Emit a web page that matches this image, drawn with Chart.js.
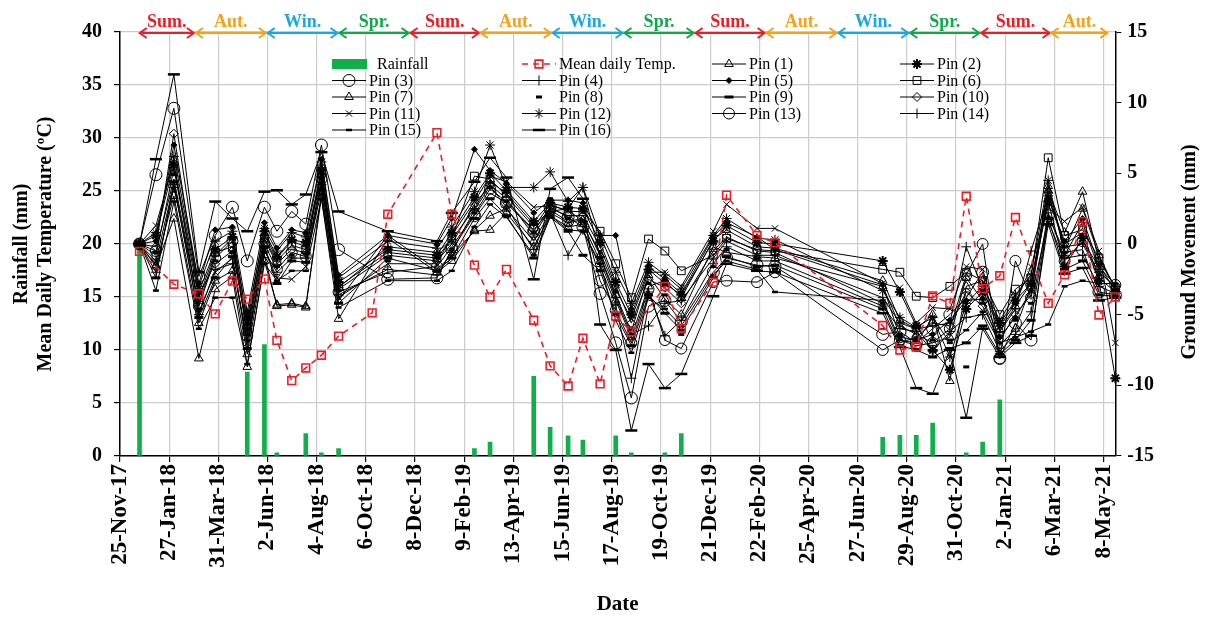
<!DOCTYPE html>
<html>
<head>
<meta charset="utf-8">
<script src="https://cdn.jsdelivr.net/npm/chart.js@4/dist/chart.umd.min.js"></script>
<style>
  html, body { margin: 0; padding: 0; background: #fff; }
  #marco { width: 1207px; height: 617px; }
</style>
</head>
<body>
<div id="marco"><canvas id="chart"></canvas></div>
<script>
// ejes y etiquetas de fecha
var tickLabels = ['25-Nov-17', '27-Jan-18', '31-Mar-18', '2-Jun-18', '4-Aug-18', '6-Oct-18', '8-Dec-18',
    '9-Feb-19', '13-Apr-19', '15-Jun-19', '17-Aug-19', '19-Oct-19', '21-Dec-19', '22-Feb-20',
    '25-Apr-20', '27-Jun-20', '29-Aug-20', '31-Oct-20', '2-Jan-21', '6-Mar-21', '8-May-21'];

// lluvia (mm)
var rainDates = ['20-Dec-17', '7-May-18', '29-May-18', '14-Jun-18', '21-Jul-18', '10-Aug-18', '1-Sep-18',
    '22-Feb-19', '14-Mar-19', '9-May-19', '30-May-19', '22-Jun-19', '11-Jul-19', '22-Aug-19', '11-Sep-19',
    '24-Oct-19', '14-Nov-19', '29-Jul-20', '20-Aug-20', '10-Sep-20', '1-Oct-20', '13-Nov-20', '4-Dec-20', '26-Dec-20'];
var rainValues = [20.0, 7.9, 10.5, 0.3, 2.1, 0.3, 0.7,
    0.7, 1.3, 7.5, 2.7, 1.9, 1.5, 1.9, 0.3,
    0.3, 2.1, 1.75, 1.95, 1.95, 3.1, 0.3, 1.3, 5.3];

// temperatura media diaria (ºC)
var tempDates = ['20-Dec-17', '2-Feb-18', '6-Mar-18', '27-Mar-18', '18-Apr-18', '7-May-18', '29-May-18',
    '14-Jun-18', '3-Jul-18', '21-Jul-18', '10-Aug-18', '1-Sep-18', '14-Oct-18', '3-Nov-18', '5-Jan-19',
    '24-Jan-19', '22-Feb-19', '14-Mar-19', '4-Apr-19', '9-May-19', '30-May-19', '22-Jun-19', '11-Jul-19',
    '2-Aug-19', '22-Aug-19', '11-Sep-19', '24-Oct-19', '14-Nov-19', '25-Dec-19', '11-Jan-20', '19-Feb-20',
    '13-Mar-20', '29-Jul-20', '20-Aug-20', '10-Sep-20', '1-Oct-20', '23-Oct-20', '13-Nov-20', '4-Dec-20',
    '26-Dec-20', '15-Jan-21', '26-Feb-21', '19-Mar-21', '11-Apr-21', '2-May-21', '23-May-21'];
var tempValues = [19.3, 16.2, 15.3, 13.4, 16.5, 14.8, 16.7,
    10.9, 7.1, 8.3, 9.5, 11.3, 13.5, 22.8, 30.5,
    22.8, 18.0, 15.0, 17.6, 12.8, 8.5, 6.6, 11.1,
    6.8, 13.2, 11.7, 16.0, 12.0, 16.4, 24.6, 20.8,
    20.1, 12.3, 10.0, 10.3, 15.1, 14.4, 24.5, 15.8,
    17.0, 22.5, 14.4, 17.1, 22.1, 13.3, 15.0];

// lecturas de los pines (mm)
var pinDates = ['20-Dec-17', '10-Jan-18', '2-Feb-18', '6-Mar-18', '27-Mar-18', '18-Apr-18', '7-May-18', '29-May-18',
    '14-Jun-18', '3-Jul-18', '21-Jul-18', '10-Aug-18', '1-Sep-18', '3-Nov-18', '5-Jan-19', '24-Jan-19',
    '22-Feb-19', '14-Mar-19', '4-Apr-19', '9-May-19', '30-May-19', '22-Jun-19', '11-Jul-19', '2-Aug-19',
    '22-Aug-19', '11-Sep-19', '3-Oct-19', '24-Oct-19', '14-Nov-19', '25-Dec-19', '11-Jan-20', '19-Feb-20',
    '13-Mar-20', '29-Jul-20', '20-Aug-20', '10-Sep-20', '1-Oct-20', '23-Oct-20', '13-Nov-20', '4-Dec-20',
    '26-Dec-20', '15-Jan-21', '4-Feb-21', '26-Feb-21', '19-Mar-21', '11-Apr-21', '2-May-21', '23-May-21'];

var pin1 = [0, -1.5, 3.4, -5.6, -2.6, -1.9, -7.8, -0.8, -4.4, -4.3, -4.5, 3.6, -4.0, 0.6, -1.8, -0.8,
    0.9, 1.0, 2.2, -0.2, 2.0, 1.2, 1.4, -1.2, -4.0, -6.6, -3.0, -2.6, -3.8, 0.3, 1.0, -0.2,
    -0.3, -2.6, -5.4, -6.0, -5.0, -9.7, -3.0, -2.6, -6.1, -4.4, -2.8, 3.8, 0.8, 3.7, -1.2, -3.0];
var pin2 = [0, 0.6, 5.6, -3.4, -0.4, 0.5, -5.2, 0.9, -0.9, 0.3, 0.1, 5.2, -2.7, -0.4, -0.8, 0.8,
    3.3, 5.0, 3.8, 1.6, 2.9, 2.6, 2.5, 0.1, -2.7, -5.0, -1.8, -2.8, -3.6, 0.2, 1.3, 0.1,
    0.0, -1.2, -3.4, -5.8, -7.5, -8.9, -4.6, -3.4, -5.6, -4.0, -2.8, 3.0, -1.6, 0.4, -2.6, -9.5];
var pin3 = [0, 4.9, 9.6, -2.3, 0.6, 2.6, -1.2, 2.6, 0.9, 2.3, 1.4, 7.0, -0.4, -2.5, -2.4, -0.4,
    2.0, 3.6, 2.9, 0.9, 2.6, 1.9, 1.2, -3.5, -7.0, -10.9, -4.4, -4.0, -5.5, -2.0, -1.0, -1.5,
    -1.6, -6.4, -6.2, -7.0, -6.0, -5.0, -3.8, -2.0, -8.1, -5.6, -6.8, 2.0, -0.6, -0.4, -3.4, -3.6];
var pin4 = [0, -1.2, 4.2, -5.0, -1.8, -1.4, -6.8, -0.5, -2.0, -1.0, -1.0, 4.2, -3.6, -1.8, -2.2, -0.6,
    2.4, 4.1, 2.6, -0.4, 2.2, -0.8, 1.0, -1.6, -4.3, -9.5, -3.4, -6.5, -5.4, -1.4, -0.2, -1.2,
    -1.2, -4.4, -6.0, -6.2, -7.6, -6.2, -5.2, -5.0, -7.6, -6.4, -4.8, 2.2, -1.0, -0.8, -3.0, -3.5];
var pin5 = [0, 0.2, 7.0, -2.8, 1.0, 1.2, -4.8, 1.5, -0.3, 1.0, 0.8, 6.0, -2.2, 0.6, 0.0, 1.8,
    6.7, 5.2, 4.3, 2.2, 3.1, 3.1, 2.9, 0.6, 0.6, -4.6, -1.6, -2.5, -3.5, 0.5, 1.5, 0.5,
    -0.4, -2.9, -6.6, -6.8, -6.4, -5.4, -4.0, -3.9, -6.6, -5.2, -3.3, 3.2, 0.2, 1.8, -1.5, -3.3];
var pin6 = [0, -0.8, 5.3, -3.8, -0.6, -0.2, -6.2, 0.4, -1.2, -0.1, -0.4, 5.0, -3.0, -0.6, -1.0, 0.4,
    4.8, 4.6, 3.4, 1.2, 2.8, 2.3, 2.3, 0.9, -1.4, -3.8, 0.35, -0.5, -1.9, -0.8, 0.4, -0.4,
    -0.5, -1.8, -2.0, -3.7, -3.8, -3.0, -2.0, -2.6, -5.0, -3.2, -2.4, 6.1, 0.6, 1.0, -1.0, -3.1];
var pin7 = [0, -1.6, 1.8, -8.1, -3.2, -2.3, -8.7, -1.2, -4.3, -4.2, -4.4, 3.3, -5.3, 0.4, -2.0, -1.2,
    1.0, 2.0, 2.5, 0.2, 2.2, 1.5, 1.7, -0.8, -3.6, -6.2, -2.2, -3.9, -5.0, -0.2, -0.6, -0.9,
    -1.0, -3.0, -5.8, -6.4, -7.0, -6.6, -2.4, -4.0, -7.2, -6.0, -3.0, 4.1, -0.4, 2.5, -0.8, -3.2];
var pin8 = [0, -0.6, 4.9, -4.6, -1.2, -0.6, -6.4, -0.6, -1.6, -0.8, -0.7, 4.7, -3.3, -1.2, -1.0, -0.4,
    2.2, 4.0, 3.0, 0.8, 3.2, 1.8, 1.6, -1.0, -3.4, -6.0, -2.8, -3.6, -6.4, -1.6, -0.4, -1.0,
    -1.8, -4.2, -6.4, -6.9, -6.8, -6.8, -8.7, -4.2, -6.6, -5.4, -4.2, 2.8, -0.6, 0.6, -2.2, -3.4];
var pin9 = [0, -2.4, 4.4, -5.2, -2.4, -0.9, -7.4, -0.2, -2.8, -1.2, -1.3, 3.8, -4.2, -1.0, -1.9, -1.0,
    1.8, 3.2, 2.0, -1.0, 1.9, 0.9, -0.8, -1.9, -5.0, -7.2, -3.6, -4.9, -6.1, -2.4, -0.9, -1.6,
    -1.5, -4.6, -7.2, -7.5, -8.0, -7.4, -7.0, -5.8, -7.8, -6.8, -5.4, 1.8, -1.8, -1.2, -3.6, -3.7];
var pin10 = [0, -0.2, 7.8, -3.6, -1.4, -0.5, -5.8, 0.3, -1.4, -0.4, -0.6, 5.4, -3.2, -0.8, -1.2, 0.0,
    2.8, 4.2, 3.2, 0.6, 2.5, 2.0, 2.0, -0.2, -3.0, -5.6, -2.5, -3.1, -4.2, -0.5, 0.5, -0.5,
    -0.6, -4.2, -7.0, -6.6, -5.6, -5.8, -3.4, -4.4, -6.8, -5.0, -3.6, 3.6, 0.0, 0.8, -2.4, -3.4];
var pin11 = [0, 1.3, 5.8, -4.8, -2.0, -1.0, -7.0, -0.4, -2.4, -2.5, -1.6, 4.4, -3.8, -1.4, -1.4, 0.6,
    3.0, 4.8, 4.4, 2.6, 2.7, 2.4, 1.6, -0.6, -3.2, -5.3, -2.0, -2.0, -3.0, 0.9, 2.8, 1.1,
    1.1, -2.8, -3.1, -5.6, -4.5, -4.6, -1.6, -1.8, -5.8, -4.2, -1.6, 2.6, 1.6, 2.6, -0.5, -7.0];
var pin12 = [0, 0.8, 6.2, -3.0, 0.2, 0.9, -5.6, 1.1, -0.5, 0.8, 0.5, 5.8, -2.4, 0.2, -0.3, 1.2,
    3.7, 7.0, 4.0, 4.0, 5.1, 3.0, 4.0, 0.6, -2.0, -4.2, -1.3, -2.2, -3.2, 0.6, 1.8, 0.4,
    0.3, -3.3, -5.2, -5.9, -5.2, -8.0, -4.2, -3.0, -5.4, -3.6, -2.2, 4.5, -0.8, 1.5, -1.8, -3.2];
var pin13 = [0, -0.5, 4.6, -4.4, -1.0, 0.2, -6.5, 0.0, -1.8, -0.6, -0.9, 4.6, -3.4, -2.0, -1.6, -0.2,
    2.1, 3.9, 3.0, 1.0, 2.4, 1.6, 1.8, -2.6, -4.7, -7.0, -3.2, -6.8, -7.4, -2.7, -2.6, -2.7,
    -2.0, -7.5, -6.8, -7.2, -7.0, -6.0, -2.2, 0.0, -8.1, -1.2, -3.8, 1.6, -1.2, 0.2, -1.6, -2.9];
var pin14 = [0, -2.0, 4.0, -4.2, -0.8, 0.4, -6.0, 0.6, -1.0, 0.2, -0.2, 4.9, -3.1, -0.2, -0.6, 0.3,
    2.5, 4.4, 3.6, 1.4, 2.3, 2.5, 4.0, -0.9, -3.8, -6.4, -5.8, -4.2, -4.0, -1.0, 0.2, -0.8,
    -0.8, -3.8, -5.6, -6.0, -5.8, -5.6, -0.2, -3.2, -6.2, -4.6, -0.5, 3.4, -0.2, 0.0, -2.0, -3.0];
var pin15 = [0, -3.3, 3.0, -6.0, -3.8, -3.8, -8.5, -1.4, -2.6, -1.9, -1.9, 3.2, -4.5, -2.6, -2.6, -1.9,
    1.2, 2.8, 1.9, -0.8, 2.0, 1.0, 0.9, -1.4, -5.4, -7.7, -3.8, -4.6, -5.8, -2.2, -1.2, -1.8,
    -3.4, -4.0, -6.8, -7.0, -5.2, -7.0, -6.1, -4.8, -7.0, -6.6, -6.2, -5.7, -3.0, -2.6, -2.8, -2.8];
var pin16 = [0, 6.0, 12.0, -2.0, 3.0, 1.8, 0.9, 3.7, 3.8, 2.8, 3.5, 6.5, 2.3, 0.9, 0.2, 2.2,
    4.4, 6.1, 4.7, -2.5, 3.9, 4.7, 3.2, -5.7, -7.5, -13.2, -8.5, -10.2, -9.2, -3.7, -1.4, -1.9,
    -2.0, -4.9, -7.3, -10.2, -10.6, -7.5, -12.3, -6.0, -8.0, -7.0, -6.5, 1.4, -2.1, -1.7, -4.0, -3.8];

// estaciones del año sobre el gráfico
var seasonNames = ['Sum.', 'Aut.', 'Win.', 'Spr.', 'Sum.', 'Aut.', 'Win.', 'Spr.', 'Sum.', 'Aut.', 'Win.', 'Spr.', 'Sum.', 'Aut.'];
var seasonStart = ['19-Dec-17', '1-Mar-18', '1-Jun-18', '1-Sep-18', '1-Dec-18', '1-Mar-19', '1-Jun-19',
    '1-Sep-19', '1-Dec-19', '1-Mar-20', '1-Jun-20', '1-Sep-20', '1-Dec-20', '1-Mar-21'];
var seasonEnd = ['1-Mar-18', '1-Jun-18', '1-Sep-18', '1-Dec-18', '1-Mar-19', '1-Jun-19', '1-Sep-19',
    '1-Dec-19', '1-Mar-20', '1-Jun-20', '1-Sep-20', '1-Dec-20', '1-Mar-21', '14-May-21'];
var seasonColors = { 'Sum.': '#ee1c25', 'Aut.': '#f7a11a', 'Win.': '#1ba7e6', 'Spr.': '#12a84a' };

var meses = { Jan: 0, Feb: 1, Mar: 2, Apr: 3, May: 4, Jun: 5, Jul: 6, Aug: 7, Sep: 8, Oct: 9, Nov: 10, Dec: 11 };
// dias contados desde 25-Nov-17
function dia(texto) {
    var p = texto.split('-');
    var t = Date.UTC(2000 + Number(p[2]), meses[p[1]], Number(p[0]));
    return Math.round((t - Date.UTC(2017, 10, 25)) / 86400000);
}
function puntos(fechas, valores) {
    return fechas.map(function (f, i) { return { x: dia(f), y: valores[i] }; });
}

var FUENTE = '"Liberation Serif", "Times New Roman", serif';

// marcador de cada pin: [estilo, radio, grosor, relleno, con linea]
var marcas = [
    ['triangle', 5, 1, 'rgba(255,255,255,0)', true],
    ['star', 5, 2, 'rgba(255,255,255,0)', true],
    ['circle', 6, 1, 'rgba(255,255,255,0)', true],
    ['cross', 5, 1, 'rgba(255,255,255,0)', true],
    ['rectRot', 3, 1, '#000', true],
    ['rect', 5.5, 1, 'rgba(255,255,255,0)', true],
    ['triangle', 5, 1, 'rgba(255,255,255,0)', true],
    ['line', 3, 3, '#000', false],
    ['line', 4.5, 3, '#000', true],
    ['rectRot', 4.5, 1, 'rgba(255,255,255,0)', true],
    ['crossRot', 4.5, 1, 'rgba(255,255,255,0)', true],
    ['star', 5, 1, 'rgba(255,255,255,0)', true],
    ['circle', 5.5, 1, 'rgba(255,255,255,0)', true],
    ['cross', 5, 1, 'rgba(255,255,255,0)', true],
    ['line', 3, 2.5, '#000', true],
    ['line', 6, 2.5, '#000', true]
];
var pinas = [pin1, pin2, pin3, pin4, pin5, pin6, pin7, pin8, pin9, pin10, pin11, pin12, pin13, pin14, pin15, pin16];

var datasets = [{
    type: 'bar',
    label: 'Rainfall',
    data: puntos(rainDates, rainValues),
    yAxisID: 'y',
    backgroundColor: '#0fb04b',
    barThickness: 4,
    order: 30
}, {
    type: 'line',
    label: 'Mean daily Temp.',
    data: puntos(tempDates, tempValues),
    yAxisID: 'y',
    borderColor: '#f21d24',
    borderWidth: 1.6,
    borderDash: [6, 5],
    pointStyle: 'rect',
    pointRadius: 5.5,
    pointBorderColor: '#f21d24',
    pointBackgroundColor: 'rgba(255,255,255,0)',
    pointBorderWidth: 1.6,
    clip: false,
    order: 0
}];
pinas.forEach(function (valores, i) {
    var m = marcas[i];
    datasets.push({
        type: 'line',
        label: 'Pin (' + (i + 1) + ')',
        data: puntos(pinDates, valores),
        yAxisID: 'y1',
        borderColor: '#000',
        borderWidth: 1,
        showLine: m[4],
        pointStyle: m[0],
        pointRadius: m[1],
        pointBorderWidth: m[2],
        pointBorderColor: '#000',
        pointBackgroundColor: m[3],
        clip: false,
        order: 1
    });
});

// flechas de las estaciones
var estaciones = {
    id: 'estaciones',
    afterDraw: function (chart) {
        var ctx = chart.ctx, xs = chart.scales.x, y = chart.chartArea.top + 1;
        ctx.save();
        ctx.lineWidth = 2;
        ctx.font = 'bold 18px ' + FUENTE;
        ctx.textAlign = 'center';
        ctx.textBaseline = 'alphabetic';
        seasonNames.forEach(function (nombre, i) {
            var x1 = xs.getPixelForValue(dia(seasonStart[i])) + 1;
            var x2 = xs.getPixelForValue(dia(seasonEnd[i])) - 1;
            ctx.strokeStyle = seasonColors[nombre];
            ctx.fillStyle = seasonColors[nombre];
            ctx.beginPath();
            ctx.moveTo(x1, y); ctx.lineTo(x2, y);
            ctx.moveTo(x1 + 7, y - 5); ctx.lineTo(x1, y); ctx.lineTo(x1 + 7, y + 5);
            ctx.moveTo(x2 - 7, y - 5); ctx.lineTo(x2, y); ctx.lineTo(x2 - 7, y + 5);
            ctx.stroke();
            ctx.fillText(nombre, (x1 + x2) / 2, y - 6);
        });
        ctx.restore();
    }
};

// leyenda dentro del area, 4 columnas
var legendCols = [332, 522, 712, 900];
var legendRows = [64, 80.5, 97, 113.5, 130];
var leyenda = {
    id: 'leyenda',
    afterDraw: function (chart) {
        var ctx = chart.ctx;
        ctx.save();
        ctx.font = '16px ' + FUENTE;
        ctx.textBaseline = 'middle';
        ctx.textAlign = 'left';
        chart.data.datasets.forEach(function (ds, i) {
            var x = legendCols[i % 4], y = legendRows[Math.floor(i / 4)];
            if (ds.type === 'bar') {
                ctx.fillStyle = ds.backgroundColor;
                ctx.fillRect(x, y - 5, 35, 10);
                ctx.fillStyle = '#000';
                ctx.fillText(ds.label, x + 45, y + 1);
                return;
            }
            if (ds.showLine !== false) {
                ctx.strokeStyle = ds.borderColor;
                ctx.lineWidth = ds.borderWidth;
                ctx.setLineDash(ds.borderDash || []);
                ctx.beginPath();
                ctx.moveTo(x, y); ctx.lineTo(x + 34, y);
                ctx.stroke();
                ctx.setLineDash([]);
            }
            ctx.strokeStyle = ds.pointBorderColor;
            ctx.fillStyle = ds.pointBackgroundColor;
            ctx.lineWidth = ds.pointBorderWidth;
            Chart.helpers.drawPoint(ctx, {
                pointStyle: ds.pointStyle,
                radius: ds.pointRadius,
                borderWidth: ds.pointBorderWidth,
                rotation: 0
            }, x + 17, y);
            ctx.fillStyle = '#000';
            ctx.fillText(ds.label, x + 37, y + 1);
        });
        ctx.restore();
    }
};

// titulo del eje derecho, leido de abajo hacia arriba
var tituloDerecho = {
    id: 'tituloDerecho',
    afterDraw: function (chart) {
        var ctx = chart.ctx, a = chart.chartArea;
        ctx.save();
        ctx.translate(1190, (a.top + a.bottom) / 2 + 8);
        ctx.rotate(-Math.PI / 2);
        ctx.font = 'bold 20px ' + FUENTE;
        ctx.fillStyle = '#000';
        ctx.textAlign = 'center';
        ctx.textBaseline = 'middle';
        ctx.fillText('Ground Movement (mm)', 0, 0);
        ctx.restore();
    }
};

var canvas = document.getElementById('chart').getContext('2d');
window.grafico = new Chart(canvas, {
    type: 'line',
    data: { datasets: datasets },
    plugins: [estaciones, leyenda, tituloDerecho],
    options: {
        responsive: true,
        maintainAspectRatio: false,
        animation: false,
        layout: { padding: { top: 32, right: 47, left: 10, bottom: 0 } },
        plugins: {
            legend: { display: false },
            tooltip: { enabled: false }
        },
        scales: {
            x: {
                type: 'linear',
                min: 0,
                max: 1275,
                offset: false,
                afterBuildTicks: function (axis) {
                    axis.ticks = tickLabels.map(function (t) { return { value: dia(t) }; });
                },
                ticks: {
                    autoSkip: false,
                    minRotation: 90,
                    maxRotation: 90,
                    padding: 2,
                    color: '#000',
                    font: { family: FUENTE, size: 23, weight: 'bold' },
                    callback: function (v, i) { return tickLabels[i]; }
                },
                grid: { color: '#cccccc', lineWidth: 1.2, tickColor: '#000', tickLength: 6, offset: false },
                border: { color: '#000', width: 1.5 },
                title: {
                    display: true,
                    text: 'Date',
                    color: '#000',
                    font: { family: FUENTE, size: 21, weight: 'bold' },
                    padding: { top: 22, bottom: 0 }
                }
            },
            y: {
                position: 'left',
                min: 0,
                max: 40,
                ticks: { stepSize: 5, padding: 12, color: '#000', font: { family: FUENTE, size: 20, weight: 'bold' } },
                grid: { color: '#cccccc', lineWidth: 1.2, tickColor: '#000', tickLength: 6 },
                border: { color: '#000', width: 1.5 },
                title: {
                    display: true,
                    text: ['Rainfall (mm)', 'Mean Daily Temperature (ºC)'],
                    color: '#000',
                    font: { family: FUENTE, size: 20, weight: 'bold' },
                    padding: { top: 0, bottom: 12 }
                }
            },
            y1: {
                position: 'right',
                min: -15,
                max: 15,
                ticks: { stepSize: 5, padding: 6, color: '#000', font: { family: FUENTE, size: 20, weight: 'bold' } },
                grid: { drawOnChartArea: false, tickColor: '#000', tickLength: 6 },
                border: { color: '#000', width: 1.5 }
            }
        }
    }
});
</script>
</body>
</html>
